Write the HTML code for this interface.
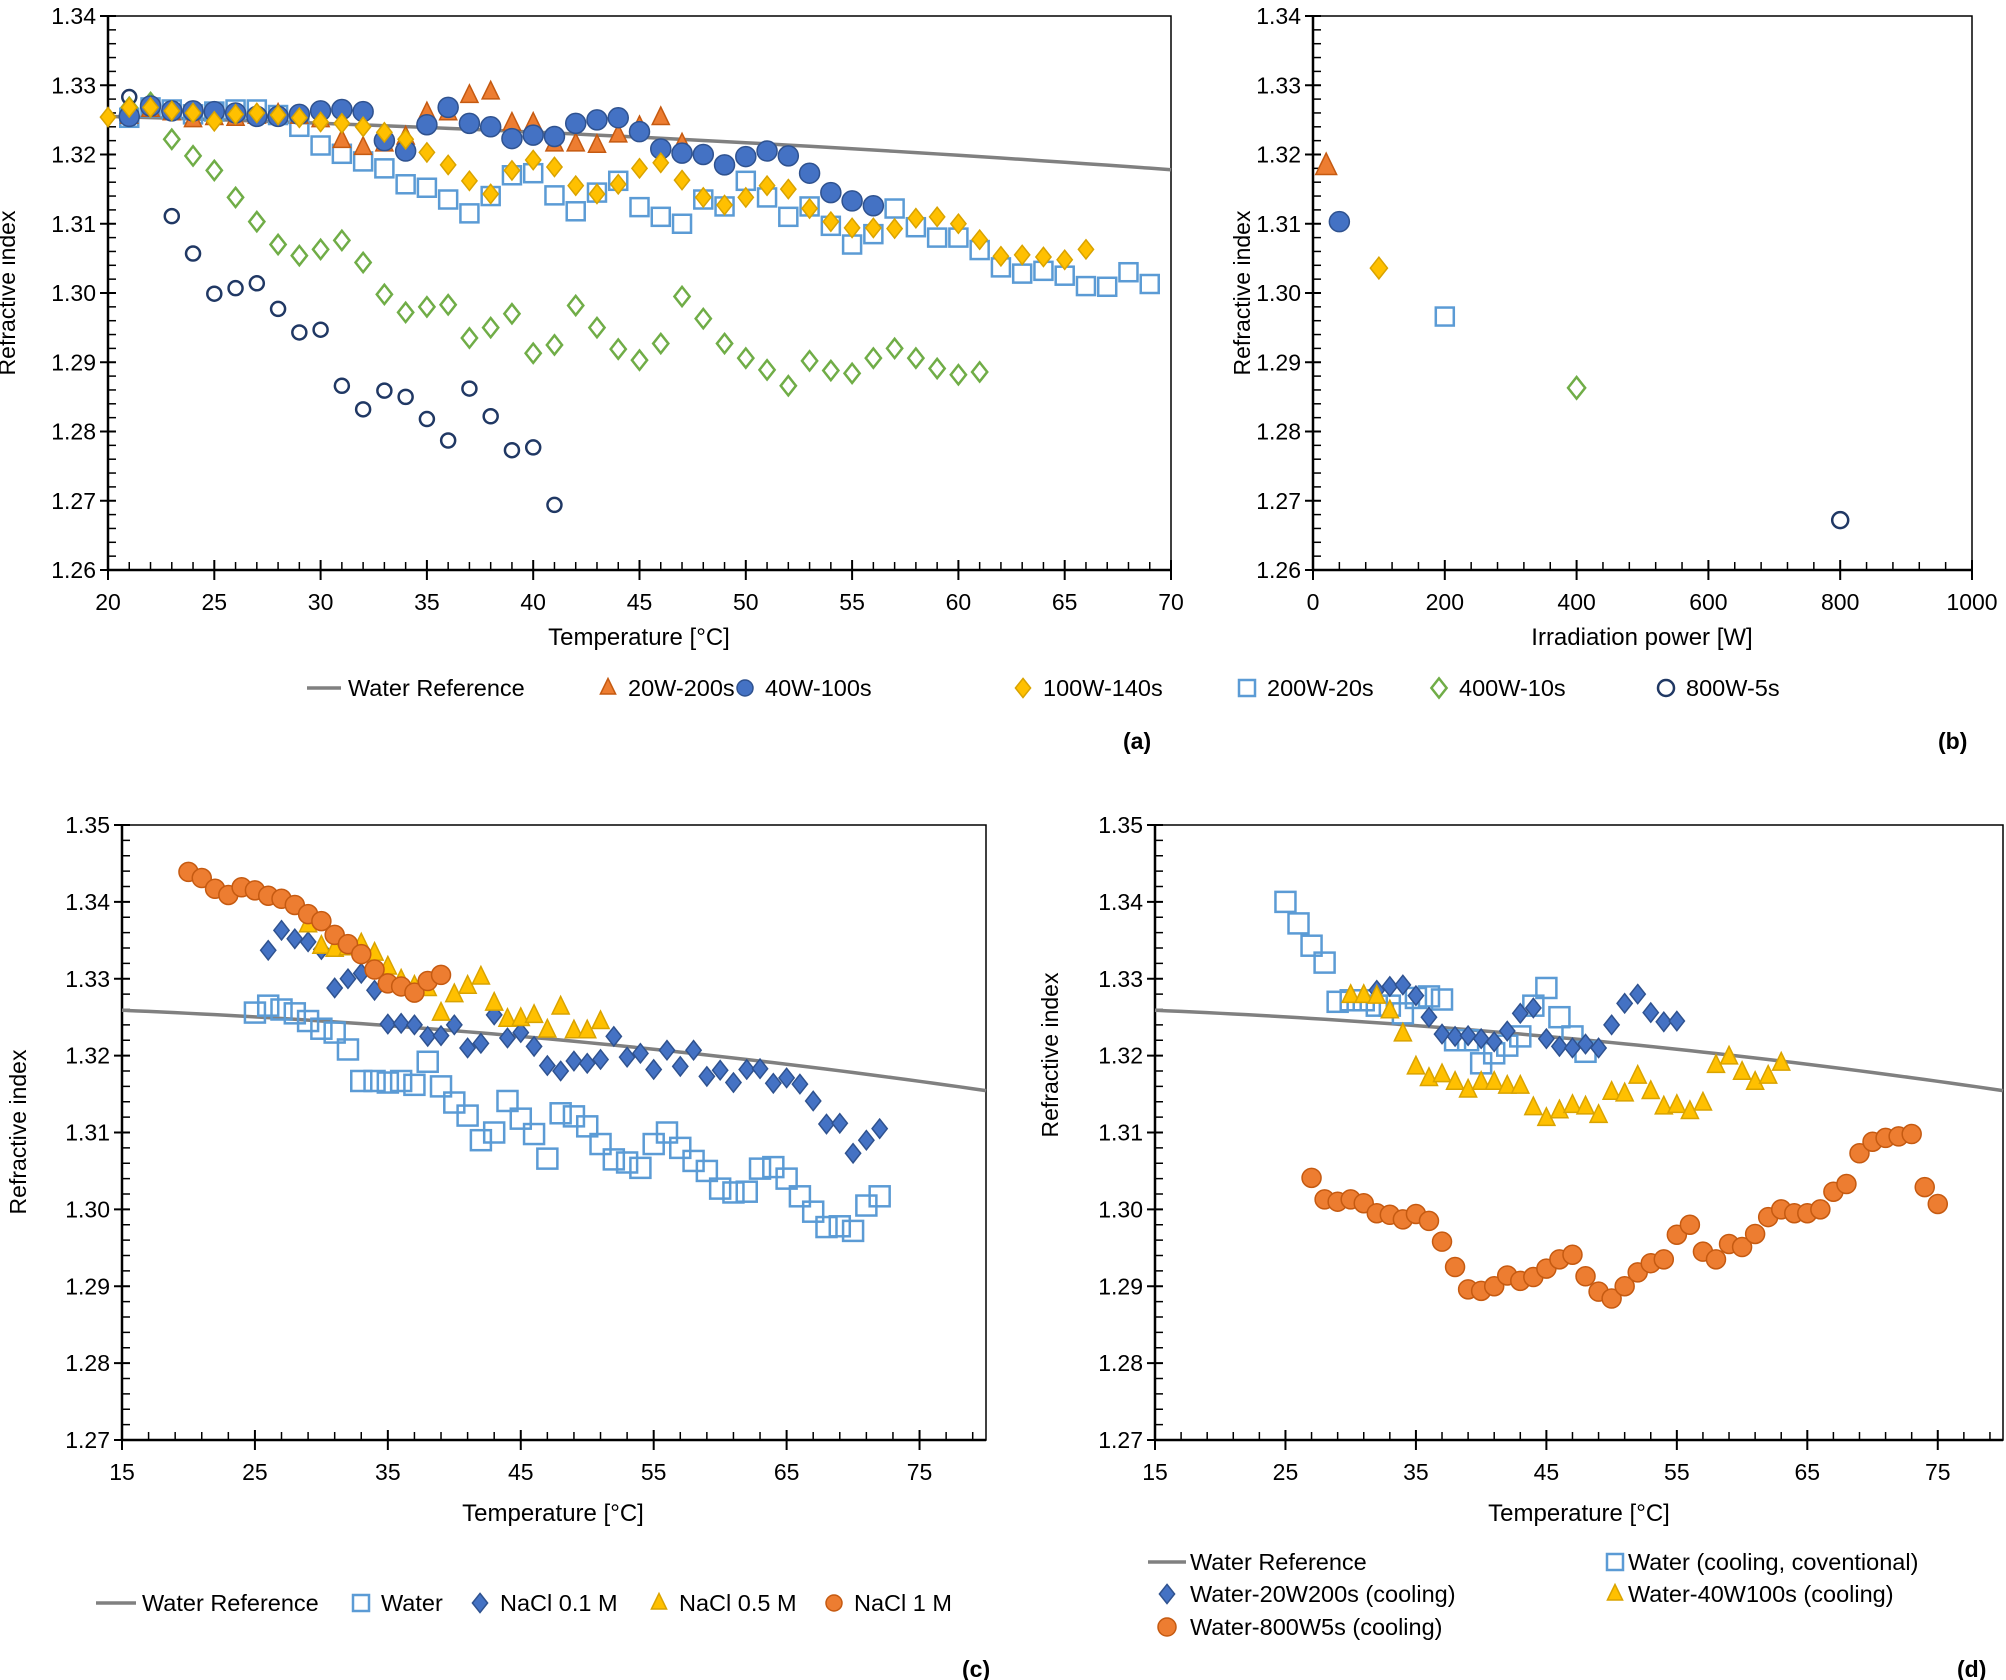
<!DOCTYPE html>
<html><head><meta charset="utf-8"><style>
html,body{margin:0;padding:0;background:#fff}
svg{display:block}
text{font-family:"Liberation Sans",sans-serif;fill:#000}
</style></head><body>
<svg id="s" width="2006" height="1680" viewBox="0 0 2006 1680" xmlns="http://www.w3.org/2000/svg">
<rect width="2006" height="1680" fill="#fff"/>
<g id="g"></g>
<text x="15" y="293" font-size="23" text-anchor="middle" transform="rotate(-90 15 293)">Refractive index</text>
<text x="639" y="645" font-size="24" text-anchor="middle">Temperature [°C]</text>
<text x="1250" y="293" font-size="23" text-anchor="middle" transform="rotate(-90 1250 293)">Refractive index</text>
<text x="1642" y="645" font-size="24" text-anchor="middle">Irradiation power [W]</text>
<text x="1123" y="749" font-size="23" font-weight="bold">(a)</text>
<text x="1938" y="749" font-size="23" font-weight="bold">(b)</text>
<text x="26" y="1132" font-size="23" text-anchor="middle" transform="rotate(-90 26 1132)">Refractive index</text>
<text x="553" y="1521" font-size="24" text-anchor="middle">Temperature [°C]</text>
<text x="1058" y="1055" font-size="23" text-anchor="middle" transform="rotate(-90 1058 1055)">Refractive index</text>
<text x="1579" y="1521" font-size="24" text-anchor="middle">Temperature [°C]</text>
<text x="962" y="1677" font-size="23" font-weight="bold">(c)</text>
<text x="1957" y="1677" font-size="23" font-weight="bold">(d)</text>
</svg>
<script>
const NS="http://www.w3.org/2000/svg",G=document.getElementById('g');
function el(t,a,txt){const e=document.createElementNS(NS,t);for(const k in a)e.setAttribute(k,a[k]);if(txt!==undefined)e.textContent=txt;G.appendChild(e);return e;}
const C={or:['#ED7D31','#C55A11'],bl:['#4472C4','#2F528F'],ye:['#FFC000','#D9A300'],lb:['none','#5B9BD5'],gr:['none','#70AD47'],nv:['none','#203864']};
function mk(shape,col,x,y,s){const [f,st]=C[col];const sw=f==='none'?2.5:1.5;
 if(shape==='c')el('circle',{cx:x,cy:y,r:s,fill:f,stroke:st,'stroke-width':sw});
 else if(shape==='s')el('rect',{x:x-s,y:y-s,width:2*s,height:2*s,fill:f,stroke:st,'stroke-width':sw});
 else if(shape==='d')el('polygon',{points:`${x},${y-s*1.2} ${x+s*0.95},${y} ${x},${y+s*1.2} ${x-s*0.95},${y}`,fill:f,stroke:st,'stroke-width':sw});
 else if(shape==='t')el('polygon',{points:`${x},${y-s*1.2} ${x+s*0.95},${y+s*0.75} ${x-s*0.95},${y+s*0.75}`,fill:f,stroke:st,'stroke-width':sw});
}
function wr(T){return 1.32668-3.16e-5*T-1.36e-6*T*T;}
function axes(p){
 const X=v=>p.x0+(v-p.xa)/(p.xb-p.xa)*(p.x1-p.x0), Y=v=>p.y1-(v-p.ya)/(p.yb-p.ya)*(p.y1-p.y0);
 el('rect',{x:p.x0,y:p.y0,width:p.x1-p.x0,height:p.y1-p.y0,fill:'none',stroke:'#000','stroke-width':1.5});
 el('line',{x1:p.x0,y1:p.y1,x2:p.x1,y2:p.y1,stroke:'#000','stroke-width':2.5});
 el('line',{x1:p.x0,y1:p.y0,x2:p.x0,y2:p.y1,stroke:'#000','stroke-width':2.5});
 for(let v=p.ya;v<=p.yb+1e-9;v+=0.01){const y=Y(v);el('line',{x1:p.x0-8,y1:y,x2:p.x0+8,y2:y,stroke:'#000','stroke-width':2});
  el('text',{x:p.x0-12,y:y+8,'font-size':23,'text-anchor':'end'},v.toFixed(2));
  if(v<p.yb-1e-9)for(let k=1;k<5;k++){const yy=Y(v+k*0.002);el('line',{x1:p.x0,y1:yy,x2:p.x0+8,y2:yy,stroke:'#000','stroke-width':1.5});}}
 for(let v=p.xa;v<=p.xb+1e-9;v+=p.xs){const x=X(v);el('line',{x1:x,y1:p.y1-10,x2:x,y2:p.y1+10,stroke:'#000','stroke-width':2});
  if(p.xl(v))el('text',{x:x,y:p.y1+40,'font-size':23,'text-anchor':'middle'},String(v));
  for(let k=1;k<p.xm;k++){const vv=v+k*p.xs/p.xm;if(vv>p.xb+1e-9)break;const xx=X(vv);el('line',{x1:xx,y1:p.y1-8,x2:xx,y2:p.y1,stroke:'#000','stroke-width':1.5});}}
 if(p.wr){let d='';for(let T=p.xa;T<=p.xb;T+=1)d+=(d?'L':'M')+X(T)+','+Y(wr(T));el('path',{d,fill:'none',stroke:'#808080','stroke-width':3.5});}
 return [X,Y];
}
function series(XY,sh,col,data,s,x0){const [X,Y]=XY;for(let i=0;i<data.length;i++){const T=x0+i;if(data[i]!=null)mk(sh,col,X(T),Y(data[i]),s);}}
let A=axes({x0:108,x1:1171,y0:16,y1:570,xa:20,xb:70,ya:1.26,yb:1.34,xs:5,xm:5,xl:v=>true,wr:1});
series(A,'s','lb',[1.3253,1.3268,1.3265,1.3258,1.3262,1.3265,1.3265,1.3257,1.324,1.3213,1.3201,1.319,1.318,1.3157,1.3152,1.3135,1.3115,1.314,1.317,1.3173,1.3141,1.3118,1.3145,1.3162,1.3124,1.311,1.31,1.3135,1.3125,1.3162,1.3138,1.311,1.3125,1.3097,1.307,1.3085,1.3122,1.3095,1.308,1.308,1.3062,1.3037,1.3028,1.3032,1.3025,1.301,1.3009,1.303,1.3013],9,21);
series(A,'d','gr',[1.3268,1.3275,1.3222,1.3198,1.3177,1.3138,1.3103,1.307,1.3054,1.3063,1.3076,1.3044,1.2998,1.2972,1.298,1.2983,1.2935,1.295,1.297,1.2913,1.2925,1.2982,1.295,1.2919,1.2903,1.2927,1.2995,1.2963,1.2927,1.2906,1.2889,1.2866,1.2902,1.2888,1.2884,1.2906,1.292,1.2906,1.2891,1.2882,1.2886],8,21);
series(A,'c','nv',[1.3283,1.327,1.3111,1.3057,1.2999,1.3007,1.3014,1.2977,1.2943,1.2947,1.2866,1.2832,1.2859,1.285,1.2818,1.2787,1.2862,1.2822,1.2773,1.2777,1.2694],7,21);
series(A,'t','or',[1.3255,1.3265,1.326,1.325,1.3253,1.3252,1.3255,1.3258,1.3255,1.325,1.322,1.321,1.3215,1.3225,1.326,1.326,1.3285,1.329,1.3245,1.3245,1.3215,1.3215,1.3213,1.3228,1.324,1.3253,1.3215],9,21);
series(A,'c','bl',[1.3255,1.327,1.3263,1.3263,1.3262,1.326,1.3255,1.3255,1.3258,1.3263,1.3265,1.3262,1.322,1.3205,1.3243,1.3268,1.3245,1.324,1.3223,1.3228,1.3226,1.3245,1.325,1.3253,1.3233,1.3208,1.3202,1.32,1.3185,1.3197,1.3205,1.3198,1.3173,1.3145,1.3133,1.3126],10,21);
series(A,'d','ye',[1.3254,1.3268,1.3268,1.3263,1.326,1.3248,1.3258,1.326,1.3257,1.3253,1.3247,1.3245,1.324,1.3232,1.3222,1.3203,1.3185,1.3162,1.3143,1.3177,1.3192,1.3182,1.3155,1.3143,1.3157,1.318,1.3188,1.3163,1.3138,1.3127,1.3138,1.3155,1.315,1.3122,1.3103,1.3094,1.3094,1.3093,1.3108,1.311,1.31,1.3077,1.3053,1.3055,1.3052,1.3048,1.3063],8,20);
let B=axes({x0:1313,x1:1972,y0:16,y1:570,xa:0,xb:1000,ya:1.26,yb:1.34,xs:200,xm:5,xl:v=>true});
mk('t','or',B[0](20),B[1](1.3183),11);mk('c','bl',B[0](40),B[1](1.3103),10);mk('d','ye',B[0](100),B[1](1.3036),9);
mk('s','lb',B[0](200),B[1](1.2966),9);mk('d','gr',B[0](400),B[1](1.2863),9);mk('c','nv',B[0](800),B[1](1.2672),8);
const ly=688;el('line',{x1:307,y1:ly,x2:341,y2:ly,stroke:'#808080','stroke-width':3.5});
el('text',{x:348,y:ly+8,'font-size':23.5},'Water Reference');
[['t','or',608,'20W-200s'],['c','bl',745,'40W-100s'],['d','ye',1023,'100W-140s'],['s','lb',1247,'200W-20s'],['d','gr',1439,'400W-10s'],['c','nv',1666,'800W-5s']].forEach(a=>{mk(a[0],a[1],a[2],ly,8);el('text',{x:a[2]+20,y:ly+8,'font-size':23.5},a[3]);});
let Cc=axes({x0:122,x1:986,y0:825,y1:1440,xa:15,xb:80,ya:1.27,yb:1.35,xs:10,xm:5,xl:v=>v<80,wr:1});
series(Cc,'s','lb',[1.3256,1.3265,1.326,1.3255,1.3245,1.3235,1.323,1.3208,1.3167,1.3167,1.3165,1.3167,1.3162,1.3192,1.316,1.3139,1.3122,1.309,1.31,1.3141,1.3118,1.3098,1.3066,1.3125,1.3121,1.3108,1.3085,1.3065,1.3061,1.3054,1.3085,1.31,1.308,1.3063,1.305,1.3027,1.3022,1.3023,1.3053,1.3055,1.304,1.3017,1.2997,1.2977,1.2978,1.2972,1.3005,1.3017],10,25);
series(Cc,'d','bl',[1.3337,1.3363,1.3352,1.3348,1.3338,1.3288,1.33,1.3307,1.3285,1.3241,1.3242,1.324,1.3225,1.3226,1.324,1.321,1.3216,1.3253,1.3223,1.323,1.3212,1.3187,1.318,1.3193,1.319,1.3195,1.3225,1.3198,1.3203,1.3182,1.3207,1.3186,1.3207,1.3173,1.3181,1.3165,1.3182,1.3183,1.3164,1.3171,1.3163,1.3141,1.3111,1.3112,1.3073,1.309,1.3105],8,26);
series(Cc,'t','ye',[1.337,1.3342,1.3338,1.334,1.3345,1.3333,1.3315,1.3298,1.329,1.3287,1.3255,1.3279,1.329,1.3302,1.3268,1.3247,1.3248,1.3252,1.3233,1.3263,1.3232,1.3232,1.3244],9,29);
series(Cc,'c','or',[1.3439,1.3431,1.3417,1.3409,1.3419,1.3415,1.3408,1.3404,1.3396,1.3384,1.3375,1.3357,1.3345,1.3332,1.3312,1.3294,1.329,1.3282,1.3297,1.3305],9.5,20);
const cy=1603;el('line',{x1:96,y1:cy,x2:136,y2:cy,stroke:'#808080','stroke-width':3.5});
el('text',{x:142,y:cy+8,'font-size':23.5},'Water Reference');
[['s','lb',361,'Water'],['d','bl',480,'NaCl 0.1 M'],['t','ye',659,'NaCl 0.5 M'],['c','or',834,'NaCl 1 M']].forEach(a=>{mk(a[0],a[1],a[2],cy,8);el('text',{x:a[2]+20,y:cy+8,'font-size':23.5},a[3]);});
let D=axes({x0:1155,x1:2003,y0:825,y1:1440,xa:15,xb:80,ya:1.27,yb:1.35,xs:10,xm:5,xl:v=>v<80,wr:1});
series(D,'s','lb',[1.34,1.3372,1.3343,1.3321,1.327,1.3272,1.3272,1.3265,1.3265,1.3255,1.3275,1.3277,1.3273,1.322,1.322,1.319,1.3203,1.3213,1.3225,1.3265,1.3288,1.325,1.3225,1.3205],10,25);
series(D,'d','bl',[1.3285,1.329,1.3292,1.3278,1.325,1.3228,1.3225,1.3226,1.3222,1.3218,1.3232,1.3255,1.3262,1.3222,1.3212,1.321,1.3215,1.321,1.324,1.3268,1.328,1.3256,1.3244,1.3245],8,32);
series(D,'t','ye',[1.3278,1.3278,1.3277,1.3258,1.3228,1.3185,1.317,1.3175,1.3165,1.3155,1.3165,1.3165,1.316,1.316,1.3132,1.3118,1.3128,1.3135,1.3133,1.3122,1.3152,1.315,1.3173,1.3153,1.3133,1.3135,1.3127,1.3138,1.3187,1.3198,1.3178,1.3165,1.3173,1.319],9,30);
series(D,'c','or',[1.3041,1.3013,1.301,1.3013,1.3008,1.2995,1.2993,1.2987,1.2994,1.2985,1.2958,1.2925,1.2896,1.2894,1.29,1.2914,1.2907,1.2912,1.2923,1.2935,1.2941,1.2913,1.2893,1.2884,1.29,1.2918,1.293,1.2935,1.2967,1.298,1.2945,1.2935,1.2955,1.2951,1.2968,1.299,1.3,1.2995,1.2995,1.3,1.3023,1.3033,1.3073,1.3088,1.3093,1.3095,1.3098,1.3029,1.3007],9.5,27);
el('line',{x1:1148,y1:1562,x2:1186,y2:1562,stroke:'#808080','stroke-width':3.5});
el('text',{x:1190,y:1570,'font-size':23.5},'Water Reference');
mk('s','lb',1615,1562,8);el('text',{x:1628,y:1570,'font-size':23.5},'Water (cooling, coventional)');
mk('d','bl',1167,1594,8);el('text',{x:1190,y:1602,'font-size':23.5},'Water-20W200s (cooling)');
mk('t','ye',1615,1594,8);el('text',{x:1628,y:1602,'font-size':23.5},'Water-40W100s (cooling)');
mk('c','or',1167,1627,9);el('text',{x:1190,y:1635,'font-size':23.5},'Water-800W5s (cooling)');
</script>
</body></html>
